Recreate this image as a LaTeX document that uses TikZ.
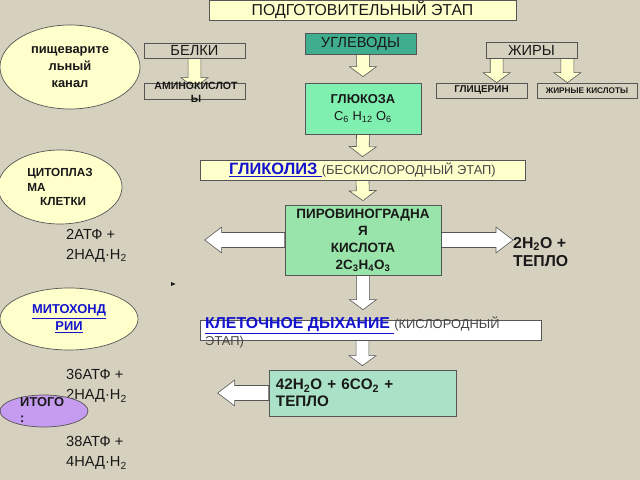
\documentclass[tikz,border=0pt]{standalone}
\usepackage{fontspec}
\setmainfont{Liberation Sans}
\usetikzlibrary{calc,shapes.geometric,positioning}
\pgfdeclarelayer{back}
\pgfsetlayers{back,main}
\definecolor{paper}{RGB}{214,209,191}
\definecolor{cream}{RGB}{255,255,204}
\definecolor{carbteal}{RGB}{64,174,142}
\definecolor{mint}{RGB}{128,240,176}
\definecolor{leaf}{RGB}{153,228,170}
\definecolor{sea}{RGB}{170,226,200}
\definecolor{lilac}{RGB}{198,156,240}
\definecolor{link}{RGB}{20,20,205}
\definecolor{note}{RGB}{70,70,70}
\definecolor{boxline}{RGB}{85,85,85}
\definecolor{ink}{RGB}{25,25,25}

\begin{document}
\begin{tikzpicture}[x=0.03cm, y=-0.03cm,
  plainbox/.style={draw=boxline, line width=0.6pt, inner sep=0pt, text=ink},
  bubble/.style={ellipse, draw=boxline, line width=0.6pt, inner sep=0pt, align=center, text=ink},
  caption/.style={inner sep=0pt, align=left, anchor=west, text=ink},
  fatarrow/.style={draw=boxline, line width=0.5pt, fill=cream,
    to path={($(\tikztostart)!5.5pt!90:(\tikztotarget)$) -- ($(\tikztotarget)!10.12pt!-32.91:(\tikztostart)$)
      -- ($(\tikztotarget)!14.3pt!-53.53:(\tikztostart)$) -- (\tikztotarget)
      -- ($(\tikztotarget)!14.3pt!53.53:(\tikztostart)$) -- ($(\tikztotarget)!10.12pt!32.91:(\tikztostart)$)
      -- ($(\tikztostart)!5.5pt!-90:(\tikztotarget)$) -- cycle}},
  sidearrow/.style={draw=boxline, line width=0.5pt, fill=white,
    to path={($(\tikztostart)!6.4pt!90:(\tikztotarget)$) -- ($(\tikztotarget)!15.85pt!-23.81:(\tikztostart)$)
      -- ($(\tikztotarget)!18.2pt!-37.18:(\tikztostart)$) -- (\tikztotarget)
      -- ($(\tikztotarget)!18.2pt!37.18:(\tikztostart)$) -- ($(\tikztotarget)!15.85pt!23.81:(\tikztostart)$)
      -- ($(\tikztostart)!6.4pt!-90:(\tikztotarget)$) -- cycle}}]
\useasboundingbox (0,0) rectangle (640,480);
\begin{pgfonlayer}{back}
\fill[paper] (0,0) rectangle (640,480);
\end{pgfonlayer}

\node[plainbox, fill=cream, minimum width=9.21cm, minimum height=0.6cm, font=\fontsize{13.5}{16}\selectfont] (prep) at (362.5,10) {ПОДГОТОВИТЕЛЬНЫЙ ЭТАП};
\node[bubble, fill=cream, minimum width=4.2cm, minimum height=2.52cm, font=\bfseries\fontsize{11}{14.5}\selectfont] (tract) at (70,67) {пищеварите\\льный\\канал};

\node[plainbox, minimum width=3.03cm, minimum height=0.45cm, font=\fontsize{12.5}{15}\selectfont] (prot) at (194.5,50.5) {БЕЛКИ};
\node[plainbox, minimum width=3.03cm, minimum height=0.48cm] (amino) at (194.5,91) {};
\node[inner sep=0pt, align=center, text=ink, font=\bfseries\fontsize{9}{11}\selectfont] (aminotext) at (196,92) {АМИНОКИСЛОТ\\Ы};

\node[plainbox, fill=carbteal, minimum width=3.33cm, minimum height=0.63cm, font=\fontsize{12.5}{15}\selectfont] (carb) at (360.5,43.5) {УГЛЕВОДЫ};
\node[plainbox, fill=mint, minimum width=3.48cm, minimum height=1.53cm, align=center, font=\fontsize{11}{14.5}\selectfont] (gluc) at (363,108.5) {{\bfseries ГЛЮКОЗА}\\C\textsubscript{6} H\textsubscript{12} O\textsubscript{6}};

\node[plainbox, minimum width=2.73cm, minimum height=0.48cm, font=\fontsize{12.5}{15}\selectfont] (fats) at (531.5,50) {ЖИРЫ};
\node[plainbox, minimum width=2.73cm, minimum height=0.45cm, font=\bfseries\fontsize{8.5}{10}\selectfont] (glyc) at (481.5,90.5) {ГЛИЦЕРИН};
\node[plainbox, minimum width=3cm, minimum height=0.45cm, font=\bfseries\fontsize{7}{9}\selectfont] (acids) at (587,90.5) {ЖИРНЫЕ КИСЛОТЫ};

\node[plainbox, fill=cream, minimum width=9.75cm, minimum height=0.6cm] (glyco) at (362.5,170) {\textcolor{link}{\bfseries\fontsize{14}{16}\selectfont\underline{ГЛИКОЛИЗ\ }}\textcolor{note}{\fontsize{11}{12}\selectfont (БЕСКИСЛОРОДНЫЙ ЭТАП)}};
\node[plainbox, fill=leaf, minimum width=4.68cm, minimum height=2.1cm, align=center, font=\bfseries\fontsize{11.5}{14.5}\selectfont] (pyru) at (363,240) {ПИРОВИНОГРАДНА\\Я\\КИСЛОТА\\2C\textsubscript{3}H\textsubscript{4}O\textsubscript{3}};

\node[bubble, fill=cream, minimum width=3.72cm, minimum height=2.22cm, align=left, font=\bfseries\fontsize{10}{12.5}\selectfont] (cyto) at (60,187) {ЦИТОПЛАЗ\\МА\\\hspace*{11pt}КЛЕТКИ};
\node[caption, font=\fontsize{12.5}{17}\selectfont] (gain1) at (66,246) {2АТФ +\\2НАД·Н\textsubscript{2}};
\node[caption, font=\bfseries\fontsize{13.5}{15.5}\selectfont] (water1) at (513,252) {2H\textsubscript{2}O +\\ТЕПЛО};
\fill[ink] (171,282) -- (175.5,284) -- (171,286) -- cycle;

\node[bubble, fill=cream, minimum width=4.14cm, minimum height=1.86cm, text=link, font=\bfseries\fontsize{11}{14.5}\selectfont] (mito) at (69,319) {\underline{МИТОХОНД}\\\underline{РИИ}};
\node[plainbox, fill=white, minimum width=10.23cm, minimum height=0.6cm] (resp) at (370.5,330) {};
\node[caption, anchor=north west, font=\fontsize{11}{14.5}\selectfont] (resptext) at (205,317) {\textcolor{link}{\bfseries\fontsize{13.5}{14.5}\selectfont\underline{КЛЕТОЧНОЕ ДЫХАНИЕ\ }}\textcolor{note}{(КИСЛОРОДНЫЙ}\\\textcolor{note}{ЭТАП)}};
\node[plainbox, fill=sea, minimum width=5.61cm, minimum height=1.38cm, text width=5.19cm, inner xsep=0.21cm, align=left, font=\bfseries\fontsize{13}{14.5}\selectfont] (final) at (362.5,393) {42H\textsubscript{2}O + 6CO\textsubscript{2} +\\ТЕПЛО};

\node[caption, font=\fontsize{12.5}{17.5}\selectfont] (gain2) at (66,386) {36АТФ +\\2НАД·Н\textsubscript{2}};
\node[bubble, fill=lilac, minimum width=2.64cm, minimum height=0.96cm] (total) at (44,411) {};
\node[caption, anchor=north west, font=\bfseries\fontsize{11}{13.5}\selectfont] (totaltext) at (20,397) {ИТОГО\\:};
\node[caption, font=\fontsize{12.5}{17.5}\selectfont] (gain3) at (66,453) {38АТФ +\\4НАД·Н\textsubscript{2}};

\coordinate (aminotip) at ($(amino.north)+(0,5)$);
\coordinate (carbtip) at ($(gluc.north)+(0,-6)$);
\coordinate (fatfoot1) at ($(fats.south west)+(11,0)$);
\coordinate (glyctip) at (fatfoot1 |- glyc.north);
\coordinate (fatfoot2) at ($(fats.south east)+(-10,0)$);
\coordinate (acidtip) at (fatfoot2 |- acids.north);
\coordinate (glycotip) at ($(glyco.north)+(0,-3)$);
\coordinate (pyrutip) at ($(pyru.north)+(0,-4)$);
\coordinate (lefttip1) at ($(pyru.west)+(-80,0)$);
\coordinate (righttip) at (water1.west |- pyru.east);
\coordinate (resptip) at ($(pyru.south |- resp.north)+(0,-10)$);
\coordinate (finaltip) at ($(final.north)+(0,-4)$);
\coordinate (lefttip2) at ($(final.west)+(-51,0)$);

\begin{pgfonlayer}{back}
\draw[fatarrow] (prot.south) to (aminotip);
\draw[fatarrow] (carb.south -| gluc.north) to (carbtip);
\draw[fatarrow] (fatfoot1) to (glyctip);
\draw[fatarrow] (fatfoot2) to (acidtip);
\draw[fatarrow] (gluc.south) to (glycotip);
\draw[fatarrow] (glyco.south) to (pyrutip);
\draw[sidearrow] (pyru.west) to (lefttip1);
\draw[sidearrow] (pyru.east) to (righttip);
\draw[fatarrow, fill=white] (pyru.south) to (resptip);
\draw[fatarrow, fill=white] (final.north |- resp.south) to (finaltip);
\draw[sidearrow] (final.west) to (lefttip2);
\end{pgfonlayer}
\end{tikzpicture}
\end{document}
